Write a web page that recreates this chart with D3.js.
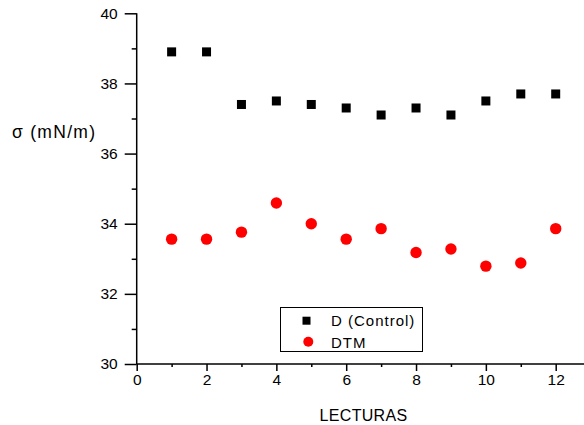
<!DOCTYPE html>
<html><head><meta charset="utf-8">
<script src="https://cdn.jsdelivr.net/npm/d3@7"></script>
<style>body{margin:0;background:#fff}svg{display:block}text{font-family:Arial,"Liberation Sans",sans-serif;fill:#000}</style>
</head><body>
<svg id="c" width="584" height="425"></svg>
<script>
const lecturas = [1,2,3,4,5,6,7,8,9,10,11,12];
const controlValues = [38.9,38.9,37.4,37.5,37.4,37.3,37.1,37.3,37.1,37.5,37.7,37.7];
const dtmValues = [33.56,33.56,33.76,34.59,34.0,33.56,33.86,33.18,33.28,32.79,32.88,33.86];
const xMajorTicks = [0,2,4,6,8,10,12];
const xMinorTicks = [1,3,5,7,9,11];
const yMajorTicks = [30,32,34,36,38,40];
const yMinorTicks = [31,33,35,37,39];
const seriesNames = ["D (Control)","DTM"];

const svg = d3.select("#c");
const x = d3.scaleLinear().domain([0,12]).range([136.7,555.7]);
const y = d3.scaleLinear().domain([30,40]).range([364,13.3]);

// axes
const gx = svg.append("g").attr("transform","translate(0,364)");
gx.call(d3.axisBottom(x).tickValues(xMajorTicks).tickSize(7).tickSizeOuter(0).tickPadding(3));
gx.select(".domain").remove();
const gxm = svg.append("g").attr("transform","translate(0,364)");
gxm.call(d3.axisBottom(x).tickValues(xMinorTicks).tickSize(3).tickFormat(""));
gxm.select(".domain").remove();
svg.append("line").attr("x1",x(0)).attr("x2",584).attr("y1",364).attr("y2",364).attr("stroke","#000").attr("stroke-width",1.5);

const gy = svg.append("g").attr("transform","translate(136.7,0)");
gy.call(d3.axisLeft(y).tickValues(yMajorTicks).tickSize(12).tickSizeOuter(0).tickPadding(7));
gy.select(".domain").remove();
const gym = svg.append("g").attr("transform","translate(136.7,0)");
gym.call(d3.axisLeft(y).tickValues(yMinorTicks).tickSize(5).tickFormat(""));
gym.select(".domain").remove();
svg.append("line").attr("x1",136.7).attr("x2",136.7).attr("y1",y(40)).attr("y2",364).attr("stroke","#000").attr("stroke-width",1.5);

svg.selectAll(".tick line").attr("stroke","#000").attr("stroke-width",1.5);
svg.selectAll(".tick text").attr("font-size",15.5).attr("font-family","Arial, 'Liberation Sans', sans-serif").attr("fill","#000");

// labels
svg.append("text").attr("x",363.5).attr("y",421).attr("text-anchor","middle").attr("font-size",16).attr("letter-spacing",0.3).text("LECTURAS");
svg.append("text").attr("x",12).attr("y",137.5).attr("font-size",17.5).attr("textLength",83).attr("lengthAdjust","spacing").text("σ (mN/m)");

// data
const sq = 9;
svg.append("g").selectAll("rect").data(lecturas).join("rect")
  .attr("x",(d)=>x(d)-sq/2).attr("y",(d,i)=>y(controlValues[i])-sq/2)
  .attr("width",sq).attr("height",sq).attr("fill","#000");
svg.append("g").selectAll("circle").data(lecturas).join("circle")
  .attr("cx",(d)=>x(d)).attr("cy",(d,i)=>y(dtmValues[i])).attr("r",5.7).attr("fill","#ff0000");

// legend
const lg = svg.append("g");
lg.append("rect").attr("x",280.5).attr("y",307.5).attr("width",142).attr("height",44).attr("fill","#fff").attr("stroke","#000").attr("stroke-width",1);
lg.append("rect").attr("x",306.5-4).attr("y",320.7-4).attr("width",8).attr("height",8).attr("fill","#000");
lg.append("circle").attr("cx",308.3).attr("cy",341.7).attr("r",5).attr("fill","#ff0000");
lg.append("text").attr("x",331).attr("y",326).attr("font-size",15).attr("letter-spacing",1).text(seriesNames[0]);
lg.append("text").attr("x",331).attr("y",347.5).attr("font-size",15).attr("letter-spacing",1).text(seriesNames[1]);
</script>
</body></html>
